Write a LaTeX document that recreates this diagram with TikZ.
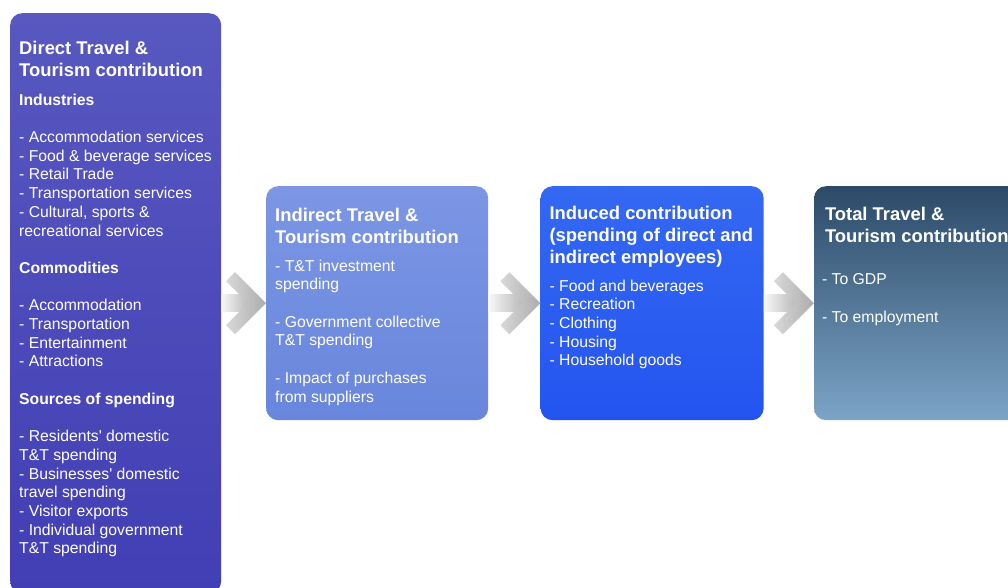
\documentclass[tikz,border=0pt]{standalone}
\usepackage{fontspec}
\setmainfont{Liberation Sans}
\usetikzlibrary{positioning}

\definecolor{directtop}{RGB}{88,88,192}
\definecolor{directbot}{RGB}{66,62,180}
\definecolor{indirtop}{RGB}{124,150,228}
\definecolor{indirbot}{RGB}{104,134,220}
\definecolor{inductop}{RGB}{52,104,242}
\definecolor{inducbot}{RGB}{36,84,240}
\definecolor{totaltop}{RGB}{44,74,104}
\definecolor{totalbot}{RGB}{124,164,198}

\newcommand{\headfont}{\fontsize{18.4}{22}\selectfont\bfseries}
\newcommand{\bodyfont}{\fontsize{15.75}{18.7}\selectfont}

\begin{document}
\begin{tikzpicture}[x=1pt, y=-1pt,
    box/.style={rectangle, rounded corners=12pt, anchor=north west, inner sep=0pt, minimum width=222pt, minimum height=234pt},
    heading/.style={anchor=north west, inner sep=0pt, align=left, text=white, font=\headfont},
    body/.style={anchor=north west, inner sep=0pt, align=left, text=white, font=\bodyfont},
    shaft/.style={left color=gray!6, right color=gray!55},
    chev/.style={left color=gray!30, right color=gray!65}]
    \clip (0,0) rectangle (1008,588);
    \fill[white] (0,0) rectangle (1008,588);

    % boxes
    \node (direct) [box, top color=directtop, bottom color=directbot, minimum width=211pt, minimum height=580pt] at (10,13) {};
    \node (indirect) [box, top color=indirtop, bottom color=indirbot] at (266,186) {};
    \node (induced) [box, top color=inductop, bottom color=inducbot, minimum width=223pt, right=52pt of indirect] {};
    \node (total) [box, top color=totaltop, bottom color=totalbot, right=50pt of induced] {};

    % arrows
    \foreach \a/\b in {direct/indirect, indirect/induced, induced/total} {
        \coordinate (s) at (\a.east |- \b.west);
        \shade[shaft] ([yshift=8.5pt]s) rectangle ([xshift=-18pt, yshift=-8.5pt]\b.west);
        \shade[chev] (\b.west) -- ++(-31pt,31pt) -- ++(-9pt,-9pt) -- ++(22pt,-22pt) -- ++(-22pt,-22pt) -- ++(9pt,-9pt) -- cycle;
    }

    % texts
    \node (directhead) [heading, below right=27.5pt and 9pt of direct.north west] {Direct Travel \&\\Tourism contribution};
    \node (directbody) [body, below right=80.5pt and 9pt of direct.north west] {\textbf{Industries}\\[18.7pt]
        - Accommodation services\\
        - Food \& beverage services\\
        - Retail Trade\\
        - Transportation services\\
        - Cultural, sports \&\\
        recreational services\\[18.7pt]
        \textbf{Commodities}\\[18.7pt]
        - Accommodation\\
        - Transportation\\
        - Entertainment\\
        - Attractions\\[18.7pt]
        \textbf{Sources of spending}\\[18.7pt]
        - Residents\textquotesingle{} domestic\\
        T\&T spending\\
        - Businesses\textquotesingle{} domestic\\
        travel spending\\
        - Visitor exports\\
        - Individual government\\
        T\&T spending};

    \node (indirhead) [heading, below right=21.5pt and 9pt of indirect.north west] {Indirect Travel \&\\Tourism contribution};
    \node (indirbody) [body, below right=73.5pt and 9pt of indirect.north west] {- T\&T investment\\
        spending\\[18.7pt]
        - Government collective\\
        T\&T spending\\[18.7pt]
        - Impact of purchases\\
        from suppliers};

    \node (inducedhead) [heading, below right=19.5pt and 9pt of induced.north west] {Induced contribution\\(spending of direct and\\indirect employees)};
    \node (inducedbody) [body, below right=93.5pt and 9pt of induced.north west] {- Food and beverages\\
        - Recreation\\
        - Clothing\\
        - Housing\\
        - Household goods};

    \node (totalhead) [heading, below right=20.5pt and 11pt of total.north west] {Total Travel \&\\Tourism contribution};
    \node (totalbody) [body, below right=87.5pt and 8pt of total.north west] {- To GDP\\[18.7pt]
        - To employment};
\end{tikzpicture}
\end{document}
